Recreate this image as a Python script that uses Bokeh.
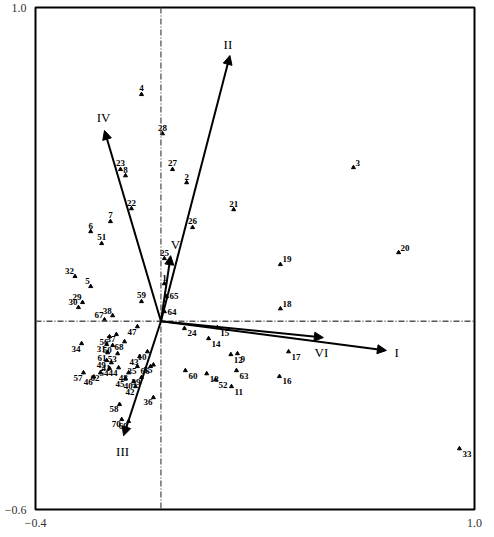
from bokeh.plotting import figure
from bokeh.models import ColumnDataSource, Arrow, NormalHead, Span, FixedTicker
from bokeh.core.properties import value
from bokeh.embed import file_html
from bokeh.resources import INLINE

# ---- data ----
site_ids = list(range(1, 71))
axis1 = [0.011, 0.082, 0.614, -0.062, -0.224, -0.224, -0.161, -0.113, 0.244, -0.043,
         0.225, 0.223, 0.146, 0.152, 0.180, 0.378, 0.407, 0.381, 0.381, 0.758,
         0.232, -0.094, -0.129, 0.075, 0.011, 0.101, 0.037, 0.005, -0.250, -0.263,
         -0.173, -0.274, 0.952, -0.253, -0.075, -0.024, -0.142, -0.154, -0.062, -0.087,
         -0.158, -0.081, -0.068, -0.135, -0.113, -0.214, -0.075, -0.103, -0.173, -0.154,
         -0.189, 0.174, -0.138, -0.164, -0.024, -0.164, -0.247, -0.132, -0.062, 0.078,
         -0.170, -0.193, 0.241, 0.011, 0.018, -0.033, -0.180, -0.116, -0.103, -0.125]
axis2 = [0.120, 0.442, 0.490, 0.723, 0.111, 0.286, 0.318, 0.464, -0.103, -0.097,
         -0.208, -0.106, -0.167, -0.055, -0.020, -0.176, -0.097, 0.040, 0.181, 0.219,
         0.356, 0.359, 0.484, -0.023, 0.200, 0.299, 0.484, 0.598, 0.060, 0.044,
         -0.074, 0.143, -0.406, -0.071, -0.144, -0.243, -0.042, 0.018, -0.179, -0.192,
         -0.132, -0.208, -0.113, -0.148, -0.183, -0.177, -0.017, -0.164, -0.125, -0.077,
         0.248, -0.186, -0.103, -0.150, -0.139, -0.049, -0.164, -0.265, 0.063, -0.157,
         -0.100, -0.164, -0.157, 0.031, 0.079, -0.144, 0.005, -0.065, -0.319, -0.313]

env_names = ["I", "II", "III", "IV", "V", "VI"]
env_x = [0.719, 0.220, -0.119, -0.180, 0.031, 0.518]
env_y = [-0.093, 0.847, -0.365, 0.608, 0.209, -0.052]

x_ticks = [-0.4, 1.0]
y_ticks = [-0.6, 1.0]

SERIF = "Liberation Serif"

p = figure(width=490, height=535, x_range=(x_ticks[0], x_ticks[1]), y_range=(y_ticks[0], y_ticks[1]),
           output_backend="svg", toolbar_location=None,
           min_border_left=35, min_border_right=16, min_border_top=7, min_border_bottom=26)
p.xgrid.visible = False
p.ygrid.visible = False
p.outline_line_color = "black"
p.outline_line_width = 2
p.background_fill_color = "white"
p.border_fill_color = "white"

for ax, ticks in [(p.xaxis, x_ticks), (p.yaxis, y_ticks)]:
    ax.ticker = FixedTicker(ticks=ticks)
    ax.major_label_overrides = {v: ("%.1f" % v).replace("-", "\u2212") for v in ticks}
    ax.axis_line_color = None
    ax.major_tick_line_color = None
    ax.minor_tick_line_color = None
    ax.major_label_standoff = 3
    ax.major_label_text_font = SERIF
    ax.major_label_text_font_size = "12px"
    ax.major_label_text_color = "#333333"

# dash-dot zero lines
for dim in ["width", "height"]:
    p.add_layout(Span(location=0, dimension=dim, line_color="#555555",
                      line_width=1.3, line_dash="6 2 1 2"))

# site points
p.scatter(axis1, axis2, marker="triangle", size=4, color="black")

def place(x, y):
    if y >= 0:
        if x > 0.3:
            return "above_right"
        if 0 < x < 0.05 and y < 0.1:
            return "right"
        if x < -0.15 and y < 0.2:
            return "above_left"
        return "above"
    if x > 0:
        return "below_right"
    return "below_left"

styles = {
    "above": ("center", "bottom", 0, -3),
    "above_right": ("left", "bottom", 2, -2),
    "above_left": ("right", "bottom", -1, -2),
    "right": ("left", "middle", 3, 0),
    "below_right": ("left", "top", 3, 2),
    "below_left": ("right", "top", -1, 2),
}
groups = {}
for sid, x, y in zip(site_ids, axis1, axis2):
    g = place(x, y)
    groups.setdefault(g, {"x": [], "y": [], "t": []})
    groups[g]["x"].append(x)
    groups[g]["y"].append(y)
    groups[g]["t"].append(str(sid))
for g, d in groups.items():
    al, bl, dx, dy = styles[g]
    p.text(x=d["x"], y=d["y"], text=d["t"], text_align=al, text_baseline=bl,
           x_offset=dx, y_offset=dy, text_font=value(SERIF), text_font_style="bold",
           text_font_size="9px", text_color="black")

# environmental arrows
asrc = ColumnDataSource(dict(x0=[0] * len(env_x), y0=[0] * len(env_y), x=env_x, y=env_y))
p.add_layout(Arrow(end=NormalHead(size=9, fill_color="black", line_color="black"),
                   x_start="x0", y_start="y0", x_end="x", y_end="y", source=asrc,
                   line_width=2, line_color="black"))

arrow_label_style = {
    "I": ("left", "middle", 8, 2),
    "II": ("center", "bottom", -2, -4),
    "III": ("center", "top", -1, 8),
    "IV": ("center", "bottom", -1, -5),
    "V": ("left", "bottom", 0, -4),
    "VI": ("center", "top", -2, 7),
}
for n, x, y in zip(env_names, env_x, env_y):
    al, bl, dx, dy = arrow_label_style[n]
    p.text(x=[x], y=[y], text=[n], text_align=al, text_baseline=bl, x_offset=dx, y_offset=dy,
           text_font=value(SERIF), text_font_size="13px", text_color="black")

open("out.html", "w").write(file_html(p, INLINE))
